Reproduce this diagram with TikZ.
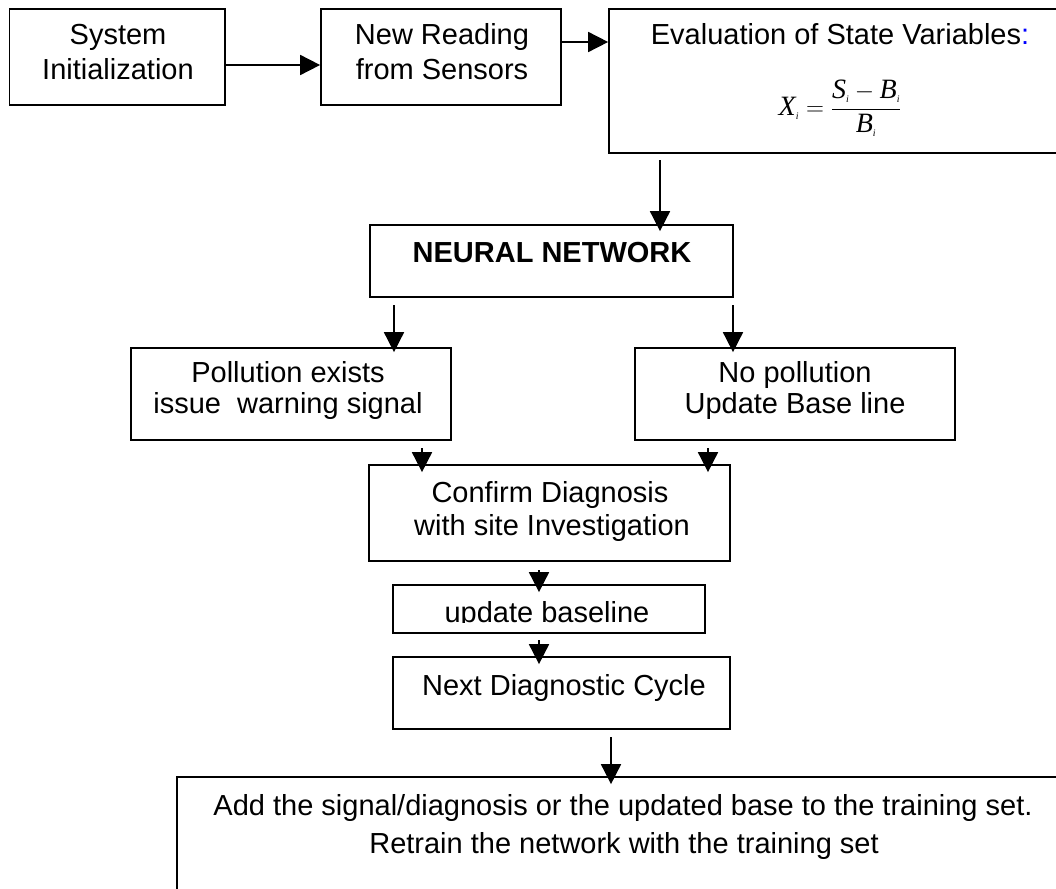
\documentclass[tikz,border=0pt]{standalone}
\usepackage{fontspec}
\setmainfont{Liberation Sans}
\newfontfamily\tmsfont{Liberation Serif}
\newcommand{\fvar}[1]{\mbox{\tmsfont\itshape #1}}
\newcommand{\fsub}[1]{\mbox{\tmsfont\itshape\fontsize{10}{10}\selectfont #1}}
\usetikzlibrary{arrows.meta}
\begin{document}
\begin{tikzpicture}[x=1pt,y=-1pt,
  box/.style={draw,line width=1.7pt,inner sep=0pt},
  txt/.style={font=\fontsize{29}{33}\selectfont,inner sep=0pt,anchor=base},
  arr/.style={line width=1.7pt,-{Triangle[length=20pt,width=20pt]}}]
\useasboundingbox (0,0) rectangle (1056,888);
\clip (0,0) rectangle (1056,888);
% boxes
\node[box,minimum width=215.5pt,minimum height=96pt] (init) at (117.25,57) {};
\node[box,minimum width=240pt,minimum height=96pt] (read) at (441,57) {};
\node[box,minimum width=461pt,minimum height=144pt] (eval) at (839.5,81) {};
\node[box,minimum width=363pt,minimum height=72pt] (nn) at (551.5,261) {};
\node[box,minimum width=320pt,minimum height=92pt] (pol) at (291,394) {};
\node[box,minimum width=320pt,minimum height=92pt] (nop) at (795,394) {};
\node[box,minimum width=361pt,minimum height=96pt] (conf) at (549.5,513) {};
\node[box,minimum width=312pt,minimum height=48pt] (upd) at (549,609) {};
\node[box,minimum width=337pt,minimum height=72pt] (next) at (561.5,693) {};
\node[box,minimum width=893pt,minimum height=123pt] (train) at (623.5,838.5) {};
% texts
\node[txt] (tinit1) at (118,45) {System};
\node[txt] (tinit2) at (118,80) {Initialization};
\node[txt] (tread1) at (442,45) {New Reading};
\node[txt] (tread2) at (442,80) {from Sensors};
\node[txt] (teval) at (840,45) {Evaluation of State Variables{\color{blue}:}};
\node[inner sep=0pt,font=\fontsize{28}{30}\selectfont] (form) at (840,108) {$\displaystyle \fvar{X}_{\fsub{i}} = \frac{\fvar{S}_{\fsub{i}}-\fvar{B}_{\fsub{i}}}{\fvar{B}_{\fsub{i}}}$};
\node[txt,font=\fontsize{29}{33}\selectfont\bfseries] (tnn) at (552,262) {NEURAL NETWORK};
\node[txt] (tpol1) at (288,382) {Pollution exists};
\node[txt] (tpol2) at (288,413) {issue\ \ warning signal};
\node[txt] (tnop1) at (795,382) {No pollution};
\node[txt] (tnop2) at (795,413) {Update Base line};
\node[txt] (tconf1) at (550,502) {Confirm Diagnosis};
\node[txt] (tconf2) at (552,535) {with site Investigation};
\begin{scope}
\clip (395,587) rectangle (703,622.5);
\node[txt] (tupd) at (547,622) {update baseline};
\end{scope}
\node[txt] (tnext) at (564,695) {Next Diagnostic Cycle};
\node[txt] (ttr1) at (623,815) {Add the signal/diagnosis or the updated base to the training set.};
\node[txt] (ttr2) at (624,853) {Retrain the network with the training set};
% arrows
\coordinate (a1) at (225,65);
\draw[arr] (a1) -- (a1 -| read.west);
\coordinate (a2) at (561,42);
\draw[arr] (a2) -- (a2 -| eval.west);
\coordinate (a3) at (660,160);
\draw[arr] (a3) -- ([yshift=-7pt]a3 |- nn.north);
\coordinate (a4) at (394,305);
\draw[arr] (a4) -- ([yshift=-5pt]a4 |- pol.north);
\coordinate (a5) at (733,305);
\draw[arr] (a5) -- ([yshift=-5pt]a5 |- nop.north);
\coordinate (a6) at (422,448);
\draw[arr] (a6) -- ([yshift=-8pt]a6 |- conf.north);
\coordinate (a7) at (708,448);
\draw[arr] (a7) -- ([yshift=-8pt]a7 |- conf.north);
\coordinate (a8) at (539,570);
\draw[arr] (a8) -- ([yshift=-8pt]a8 |- upd.north);
\coordinate (a9) at (539,640);
\draw[arr] (a9) -- ([yshift=-8pt]a9 |- next.north);
\coordinate (a10) at (611,737);
\draw[arr] (a10) -- ([yshift=-8pt]a10 |- train.north);
\end{tikzpicture}
\end{document}
